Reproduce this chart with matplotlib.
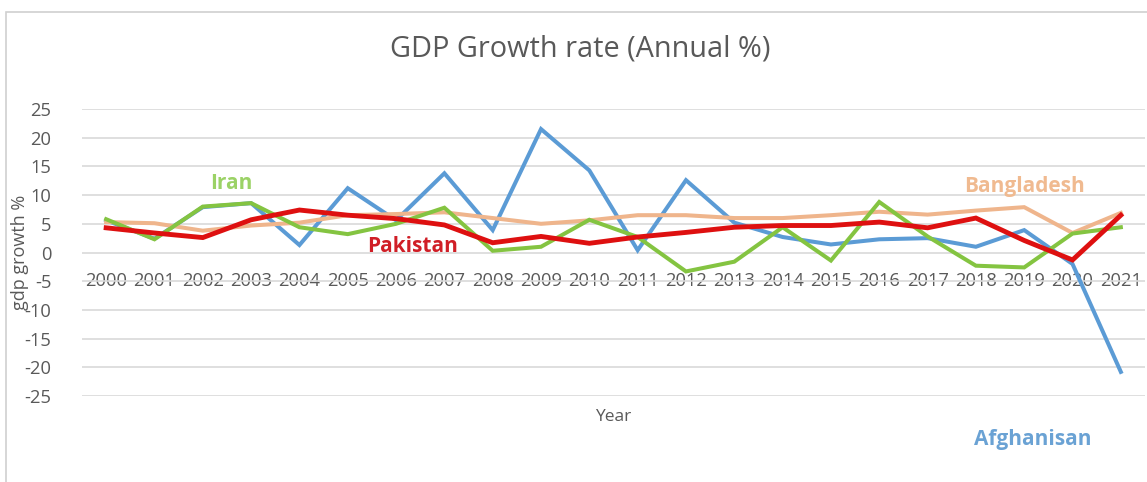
import matplotlib.pyplot as plt
import matplotlib.patches as mpatches

# annual GDP growth, %
years = [str(y) for y in range(2000, 2022)]
afghanistan = [5.6, 2.4, 7.9, 8.6, 1.3, 11.2, 5.6, 13.8, 3.9, 21.5, 14.3, 0.4,
               12.6, 5.2, 2.7, 1.4, 2.3, 2.5, 1.0, 3.9, -2.0, -20.8]
bangladesh = [5.3, 5.1, 3.8, 4.7, 5.2, 6.5, 6.7, 7.0, 6.0, 5.0, 5.6, 6.5,
              6.5, 6.0, 6.0, 6.5, 7.1, 6.6, 7.3, 7.9, 3.4, 6.9]
iran = [5.8, 2.3, 8.0, 8.6, 4.4, 3.2, 5.0, 7.8, 0.3, 1.0, 5.7, 2.7,
        -3.3, -1.6, 4.4, -1.4, 8.8, 2.8, -2.3, -2.6, 3.3, 4.4]
pakistan = [4.3, 3.4, 2.6, 5.7, 7.4, 6.5, 5.9, 4.8, 1.7, 2.8, 1.6, 2.7,
            3.5, 4.4, 4.7, 4.7, 5.3, 4.3, 6.0, 2.1, -1.3, 6.5]
y_ticks = list(range(-25, 30, 5))

plt.rcParams['font.family'] = ['Open Sans', 'DejaVu Sans']
plt.rcParams['axes.unicode_minus'] = False
text_grey = '#595959'

fig = plt.figure(figsize=(11.47, 4.82), dpi=100)

# chart frame
fig.patches.append(mpatches.Rectangle((6 / 1147, -0.05), 1.2, 1 - 12 / 482 + 0.05,
                                      transform=fig.transFigure, fill=False,
                                      edgecolor='#D0D0D0', linewidth=1.2))

ax = fig.add_axes([82 / 1147, 1 - 396 / 482, (1145 - 82) / 1147, (396 - 109) / 482])
x = list(range(len(years)))

ax.plot(x, afghanistan, color='#5B9BD5', lw=2.9, solid_joinstyle='miter', zorder=3)
ax.plot(x, bangladesh, color='#EFB58C', lw=2.9, solid_joinstyle='miter', zorder=4)
ax.plot(x, iran, color='#84C441', lw=2.9, solid_joinstyle='miter', zorder=5)
ax.plot(x, pakistan, color='#DE1010', lw=3.5, solid_joinstyle='miter', zorder=6)

ax.set_xlim(-0.5, len(years) - 0.5)
ax.set_ylim(-25, 25)
ax.set_yticks(y_ticks)
ax.set_xticks(x)
ax.set_xticklabels(years)
ax.grid(axis='y', color='#D9D9D9', lw=1.2, zorder=0)
ax.set_axisbelow(True)
for s in ax.spines.values():
    s.set_visible(False)
ax.spines['bottom'].set_position(('data', 0))
ax.tick_params(axis='x', length=0, pad=14, labelsize=13.2, labelcolor=text_grey)
ax.tick_params(axis='y', length=0, pad=22, labelsize=13.2, labelcolor=text_grey)

ax.set_ylabel('gdp growth %', fontsize=13, color=text_grey)
ax.yaxis.set_label_coords(-0.05, 0.5)
ax.set_xlabel('Year', fontsize=12.5, color=text_grey)
ax.xaxis.set_label_coords(0.5, -0.045)

fig.text(580 / 1147, 1 - 49 / 482, 'GDP Growth rate (Annual %)', ha='center',
         va='center', fontsize=20.8, color=text_grey)

# series names next to the lines
lbl = dict(fontsize=15, fontweight='bold', ha='center', va='center', clip_on=False)
ax.text(2.58, 12.1, 'Iran', color='#9BD266', **lbl)
ax.text(6.35, 1.0, 'Pakistan', color='#D01E26', **lbl)
ax.text(19.0, 11.5, 'Bangladesh', color='#F0BA90', **lbl)
ax.text(19.17, -32.5, 'Afghanisan', color='#6AA2D4', **lbl)

fig.savefig('out.png', dpi=100)
